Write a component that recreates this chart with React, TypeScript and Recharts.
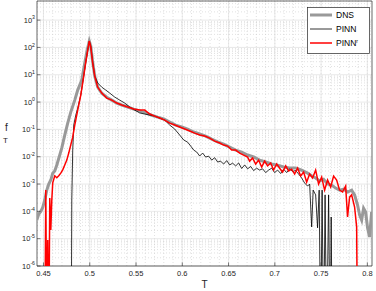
import React from 'react';
import { LineChart, Line, XAxis, YAxis, CartesianGrid, ReferenceArea } from 'recharts';

const dnsT = [0.4428,0.4449,0.4471,0.4492,0.4514,0.4536,0.4557,0.4579,0.46,0.4622,0.4644,0.4676,0.4698,0.473,0.4762,0.4795,0.4838,0.487,0.4914,0.4946,0.4968,0.4995,0.5011,0.5032,0.5054,0.5086,0.513,0.5184,0.5238,0.5292,0.5346,0.541,0.5475,0.554,0.5605,0.567,0.5734,0.5799,0.5864,0.5929,0.5994,0.6058,0.6123,0.6188,0.6253,0.6318,0.6382,0.6447,0.6512,0.6577,0.6642,0.6706,0.6771,0.6836,0.6901,0.6966,0.703,0.7095,0.716,0.7225,0.729,0.7354,0.7398,0.7441,0.7484,0.7527,0.757,0.7614,0.7657,0.77,0.7743,0.7786,0.783,0.7862,0.7894,0.7916,0.7938,0.7959,0.7981,0.8002,0.8024,0.8046];
const dnsF = [4.8e-5,8e-5,1.0e-4,1.4e-4,2.6e-4,6e-4,1e-3,1.4e-3,2.5e-3,3e-3,5e-3,1.15e-2,2.1e-2,6.2e-2,0.17,0.43,1.18,2.75,6.4,27,68,170,112,29,8.9,3.5,2.1,1.5,1.18,0.92,0.78,0.66,0.55,0.47,0.40,0.33,0.28,0.24,0.185,0.144,0.122,0.103,0.080,0.068,0.057,0.044,0.035,0.029,0.0225,0.0175,0.0148,0.0115,0.0098,0.0075,0.0064,0.0054,0.0049,0.0042,0.0039,0.0039,0.0032,0.0025,0.0020,0.00166,0.0013,0.0015,0.0010,0.00092,0.00071,0.0006,0.00065,0.00051,0.0006,0.0004,0.00017,7.4e-5,4.8e-5,1.3e-4,9.5e-5,2.5e-5,1.15e-5,9.5e-5];

const pinnT = [0.48,0.4806,0.4816,0.4827,0.4849,0.487,0.4903,0.4935,0.4957,0.4978,0.4995,0.5011,0.5032,0.5054,0.5086,0.513,0.5173,0.5216,0.527,0.5324,0.5378,0.5432,0.5486,0.554,0.5594,0.5648,0.5702,0.5756,0.581,0.5864,0.5918,0.5972,0.6015,0.6058,0.6091,0.6123,0.6156,0.6188,0.622,0.6253,0.6285,0.6318,0.635,0.6382,0.6415,0.6447,0.648,0.6512,0.6544,0.6577,0.6609,0.6642,0.6674,0.6706,0.6739,0.6771,0.6803,0.6836,0.6868,0.6901,0.6933,0.6966,0.6998,0.703,0.7063,0.7095,0.7128,0.716,0.7192,0.7225,0.7257,0.729,0.7322,0.7354,0.7376,0.7398,0.7414,0.7441,0.7462,0.7479,0.7495,0.7511,0.7527,0.7543,0.756,0.7581,0.7598,0.7609,0.762];
const pinnF = [1e-9,2.6e-4,0.0175,0.144,0.334,0.60,1.8,8.9,29,80,171,112,29,8.9,5.0,3.5,2.75,2.13,1.52,1.18,0.92,0.66,0.51,0.40,0.364,0.334,0.307,0.26,0.219,0.144,0.103,0.062,0.041,0.034,0.0245,0.0175,0.0148,0.0106,0.0136,0.0097,0.0105,0.0075,0.0092,0.0064,0.0068,0.0054,0.0072,0.0050,0.0058,0.0046,0.0059,0.0037,0.0050,0.0036,0.0044,0.0031,0.0038,0.00325,0.0036,0.00262,0.00325,0.0038,0.00262,0.00325,0.00242,0.0035,0.00262,0.0036,0.00285,0.00315,0.00232,0.00166,0.00109,0.00084,0.0010,2.7e-5,0.0006,0.0004,2.5e-5,0.0006,1e-9,0.0006,1e-9,0.0004,1e-9,0.0004,1e-9,6.2e-5,1e-9];

const pinnrT = [0.4514,0.4525,0.4536,0.4546,0.4557,0.4568,0.4579,0.459,0.46,0.4622,0.4644,0.4665,0.4687,0.4708,0.473,0.4752,0.4773,0.4795,0.4816,0.4838,0.487,0.4903,0.4935,0.4957,0.4978,0.4995,0.5011,0.5032,0.5054,0.5086,0.513,0.5184,0.5238,0.5292,0.5346,0.541,0.5475,0.554,0.5594,0.5648,0.5702,0.5756,0.581,0.5864,0.5918,0.5972,0.6026,0.608,0.6134,0.6188,0.6242,0.6296,0.635,0.6404,0.6447,0.649,0.6534,0.6577,0.662,0.6663,0.6706,0.6728,0.676,0.6793,0.6825,0.6858,0.689,0.6922,0.6955,0.6987,0.702,0.7052,0.7084,0.7117,0.7149,0.7182,0.7214,0.7246,0.7279,0.7311,0.7344,0.7376,0.7408,0.7441,0.7473,0.7506,0.7538,0.757,0.7603,0.7635,0.7668,0.77,0.7732,0.7765,0.7786,0.7808,0.783,0.7862,0.7884,0.7894];
const pinnrF = [1e-9,6e-4,1e-9,8.9e-6,1e-9,3.1e-4,2.1e-5,2.6e-4,1.1e-3,2.0e-3,1.7e-3,2.0e-3,2.5e-3,3.3e-3,5.0e-3,7.5e-3,1.36e-2,2.7e-2,5.2e-2,0.144,0.51,1.8,8.9,29,80,171,103,26.7,8.9,3.5,2.13,1.4,1.18,0.92,0.78,0.66,0.555,0.51,0.51,0.364,0.307,0.26,0.219,0.17,0.144,0.122,0.103,0.087,0.073,0.062,0.057,0.048,0.037,0.0316,0.0267,0.0245,0.0175,0.0175,0.0136,0.0115,0.0097,0.0069,0.0089,0.0054,0.0075,0.0042,0.0069,0.0046,0.0059,0.00325,0.0054,0.0038,0.00275,0.0046,0.0030,0.0035,0.00232,0.0038,0.00196,0.00275,0.00118,0.00232,0.00166,0.00325,0.0010,0.0018,0.0006,0.0014,0.00078,0.00196,0.0014,0.0006,0.00051,0.00084,6.2e-5,0.00033,0.0004,1.44e-4,2.7e-5,1e-9];

const xTicks = [0.45,0.5,0.55,0.6,0.65,0.7,0.75,0.8];
const xMinor = [0.45,0.46,0.47,0.48,0.49,0.5,0.51,0.52,0.53,0.54,0.55,0.56,0.57,0.58,0.59,0.6,0.61,0.62,0.63,0.64,0.65,0.66,0.67,0.68,0.69,0.7,0.71,0.72,0.73,0.74,0.75,0.76,0.77,0.78,0.79,0.8];
const yTicks = [1e-6,1e-5,1e-4,1e-3,1e-2,1e-1,1,10,100,1000];
const yExp = ['-6','-5','-4','-3','-2','-1','0','1','2','3'];
const yMinor = [2e-6,3e-6,4e-6,5e-6,6e-6,7e-6,8e-6,9e-6,2e-5,3e-5,4e-5,5e-5,6e-5,7e-5,8e-5,9e-5,2e-4,3e-4,4e-4,5e-4,6e-4,7e-4,8e-4,9e-4,2e-3,3e-3,4e-3,5e-3,6e-3,7e-3,8e-3,9e-3,2e-2,3e-2,4e-2,5e-2,6e-2,7e-2,8e-2,9e-2,0.2,0.3,0.4,0.5,0.6,0.7,0.8,0.9,2,3,4,5,6,7,8,9,20,30,40,50,60,70,80,90,200,300,400,500,600,700,800,900,2000,3000,4000,5000];

const X_DOMAIN: [number, number] = [0.443, 0.805];
const Y_DOMAIN: [number, number] = [1e-6, 5000];

const zip = (ts: number[], fs: number[]) => ts.map((T, i) => ({ T, f: fs[i] }));
const dnsData = zip(dnsT, dnsF);
const pinnData = zip(pinnT, pinnF);
const pinnrData = zip(pinnrT, pinnrF);

const AX = '#262626';
const FONT = 'Liberation Sans, Arial, sans-serif';

const XTick = (props: any) => {
  const { x, y, payload } = props;
  return (
    <g>
      <line x1={x} x2={x} y1={y} y2={y - 3.5} stroke={AX} strokeWidth={0.6} />
      <text x={x} y={y + 10} textAnchor="middle" fontSize={7.5} fill={AX} fontFamily={FONT}>
        {String(payload.value)}
      </text>
    </g>
  );
};

const XTopTick = (props: any) => {
  const { x, y } = props;
  return <line x1={x} x2={x} y1={y} y2={y + 3.5} stroke={AX} strokeWidth={0.6} />;
};

const YTick = (props: any) => {
  const { x, y, payload } = props;
  const idx = yTicks.indexOf(payload.value);
  const e = idx >= 0 ? yExp[idx] : '';
  return (
    <g>
      <line x1={x} x2={x + 3.5} y1={y} y2={y} stroke={AX} strokeWidth={0.6} />
      <text x={x - 2} y={y + 2.7} textAnchor="end" fontSize={7.5} fill={AX} fontFamily={FONT}>
        10<tspan dy={-3.5} fontSize={5.2}>{e}</tspan>
      </text>
    </g>
  );
};

const YRightTick = (props: any) => {
  const { x, y } = props;
  return <line x1={x} x2={x - 3.5} y1={y} y2={y} stroke={AX} strokeWidth={0.6} />;
};

const LegendBox = () => (
  <svg width={63} height={47} style={{ position: 'absolute', left: 307, top: 7 }}>
    <rect x={0.5} y={0.5} width={62} height={46} fill="#fff" stroke={AX} strokeWidth={0.7} />
    <line x1={3} x2={25} y1={8} y2={8} stroke="#999999" strokeWidth={3} />
    <line x1={3} x2={25} y1={22} y2={22} stroke="#000" strokeWidth={0.8} />
    <line x1={3} x2={25} y1={36} y2={36} stroke="#ff0000" strokeWidth={1.5} />
    <text x={29} y={11} fontSize={8.5} fontFamily={FONT}>DNS</text>
    <text x={29} y={25} fontSize={8.5} fontFamily={FONT}>PINN</text>
    <text x={29} y={39} fontSize={8.5} fontFamily={FONT}>PINN<tspan dy={-3.5} fontSize={5}>r</tspan></text>
  </svg>
);

export default function App() {
  return (
    <div style={{ position: 'absolute', left: 0, top: 0, width: 376, height: 291, background: '#fff' }}>
      <LineChart width={376} height={291} margin={{ top: 1, right: 4, bottom: 0, left: 0 }}>
        <CartesianGrid verticalValues={xMinor} horizontalValues={yMinor} stroke="#cccccc" strokeDasharray="1 2" strokeWidth={0.6} />
        <CartesianGrid verticalValues={xTicks} horizontalValues={yTicks} stroke="#e0e0e0" strokeWidth={0.7} />
        <XAxis type="number" dataKey="T" domain={X_DOMAIN} allowDataOverflow ticks={xTicks} tick={<XTick />} tickLine={false} axisLine={false} tickSize={0} tickMargin={0} height={25} interval={0}
          label={{ value: 'T', position: 'insideBottom', offset: 0, fontSize: 10, fill: AX, fontFamily: FONT, dy: -3 }} />
        <XAxis xAxisId="top" orientation="top" type="number" domain={X_DOMAIN} allowDataOverflow ticks={xTicks} tick={<XTopTick />} tickLine={false} axisLine={false} tickSize={0} tickMargin={0} height={0} interval={0} />
        <YAxis type="number" scale="log" domain={Y_DOMAIN} allowDataOverflow ticks={yTicks} tick={<YTick />} tickLine={false} axisLine={false} tickSize={0} tickMargin={0} width={37} interval={0} />
        <YAxis yAxisId="right" orientation="right" type="number" scale="log" domain={Y_DOMAIN} allowDataOverflow ticks={yTicks} tick={<YRightTick />} tickLine={false} axisLine={false} tickSize={0} tickMargin={0} width={0} interval={0} />
        <ReferenceArea x1={X_DOMAIN[0]} x2={X_DOMAIN[1]} y1={Y_DOMAIN[0]} y2={Y_DOMAIN[1]} fill="none" stroke={AX} strokeWidth={0.7} ifOverflow="visible" />
        <Line data={dnsData} dataKey="f" stroke="#999999" strokeWidth={3} dot={false} isAnimationActive={false} />
        <Line data={pinnData} dataKey="f" stroke="#000000" strokeWidth={0.8} dot={false} isAnimationActive={false} />
        <Line data={pinnrData} dataKey="f" stroke="#ff0000" strokeWidth={1.5} dot={false} isAnimationActive={false} />
      </LineChart>
      <LegendBox />
      <svg width={20} height={30} style={{ position: 'absolute', left: 0, top: 118 }}>
        <text x={5} y={13} fontSize={10} fill={AX} fontFamily={FONT}>f</text>
        <text x={3} y={25} fontSize={8} fill={AX} fontFamily={FONT}>T</text>
      </svg>
    </div>
  );
}
